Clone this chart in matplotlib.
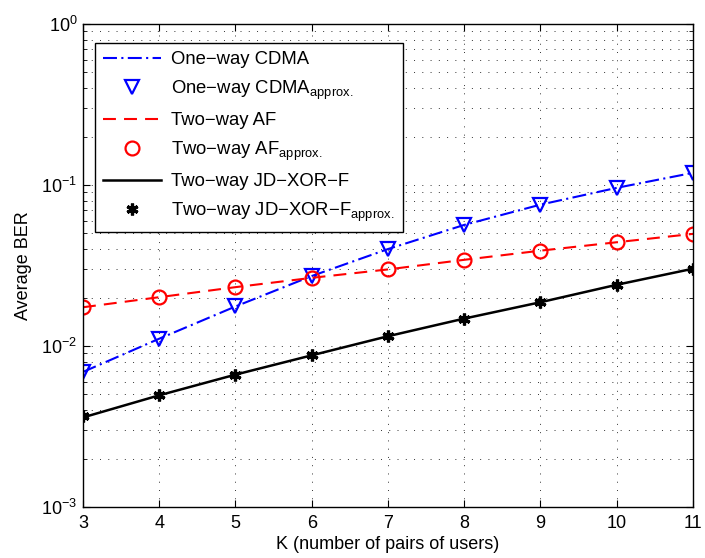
import numpy as np
import matplotlib.pyplot as plt
from matplotlib.ticker import LogLocator, NullFormatter

plt.rcParams['font.family'] = ['Liberation Sans', 'DejaVu Sans']
plt.rcParams['mathtext.fontset'] = 'custom'
plt.rcParams['mathtext.rm'] = 'Liberation Sans'
plt.rcParams['mathtext.it'] = 'Liberation Sans:italic'

# data
K = [3, 4, 5, 6, 7, 8, 9, 10, 11]
cdma = [0.0069, 0.0111, 0.0176, 0.0272, 0.0400, 0.0565, 0.0755, 0.0960, 0.119]
cdma_approx = [0.0069, 0.0111, 0.0176, 0.0274, 0.0403, 0.0567, 0.0755, 0.0962, 0.119]
af = [0.0174, 0.0201, 0.0232, 0.0265, 0.0299, 0.0343, 0.0391, 0.0441, 0.0497]
af_approx = [0.0174, 0.0201, 0.0232, 0.0265, 0.0299, 0.0343, 0.0391, 0.0441, 0.0497]
jdxor = [0.0036, 0.00494, 0.00664, 0.00875, 0.0115, 0.0148, 0.0187, 0.0240, 0.0302]
jdxor_approx = [0.00366, 0.00494, 0.00664, 0.00875, 0.0115, 0.0148, 0.0187, 0.0240, 0.0302]

FS = 13

fig = plt.figure(figsize=(7.05, 5.58), dpi=100)
ax = fig.add_axes([0.1177, 0.0914, 0.8652, 0.8656])

ax.semilogy(K, cdma, color='blue', ls=(0, (6.7, 2.1, 1, 2.1)), lw=1.5, label='One\u2212way CDMA')
ax.semilogy(K, cdma_approx, ls='none', marker='v', ms=10, mfc='none', mec='blue', mew=1.6,
            label='One\u2212way CDMA$_{\\mathrm{approx.}}$')
ax.semilogy(K, af, color='red', ls=(0, (6.2, 3.9)), lw=1.5, label='Two\u2212way AF')
ax.semilogy(K, af_approx, ls='none', marker='o', ms=10, mfc='none', mec='red', mew=1.6,
            label='Two\u2212way AF$_{\\mathrm{approx.}}$')
ax.semilogy(K, jdxor, color='black', ls='-', lw=1.8, label='Two\u2212way JD\u2212XOR\u2212F')
ax.semilogy(K, jdxor_approx, ls='none', marker=(6, 2, 0), ms=8.5, mec='black', mew=2.3,
            label='Two\u2212way JD\u2212XOR\u2212F$_{\\mathrm{approx.}}$')

ax.set_xlim(3, 11)
ax.set_ylim(1e-3, 1)
ax.set_xticks(K)
ax.yaxis.set_major_locator(LogLocator(base=10, numticks=10))
ax.yaxis.set_minor_locator(LogLocator(base=10, subs=np.arange(2, 10), numticks=20))
ax.yaxis.set_minor_formatter(NullFormatter())
ax.tick_params(which='both', direction='in', top=True, right=True, labelsize=FS)
ax.tick_params(which='major', length=5)
ax.tick_params(which='minor', length=3)
ax.tick_params(axis='x', pad=6)
ax.tick_params(axis='y', pad=4)
grid_style = dict(color='0.2', lw=0.7, ls=(0, (1, 7.5)))
ax.grid(True, which='major', **grid_style)
ax.grid(True, which='minor', axis='y', **grid_style)
for s in ax.spines.values():
    s.set_linewidth(1.0)

ax.set_xlabel('K (number of pairs of users)', fontsize=FS, labelpad=3)
ax.set_ylabel('Average BER', fontsize=FS, labelpad=7)

leg = ax.legend(loc='upper left', bbox_to_anchor=(0.0197, 0.9607), borderaxespad=0,
                fontsize=13.3, fancybox=False, edgecolor='black', framealpha=1,
                handlelength=3.1, handletextpad=0.55, labelspacing=0.56,
                borderpad=0.45)
leg.get_frame().set_linewidth(1.0)

fig.savefig('out.png', dpi=100)
